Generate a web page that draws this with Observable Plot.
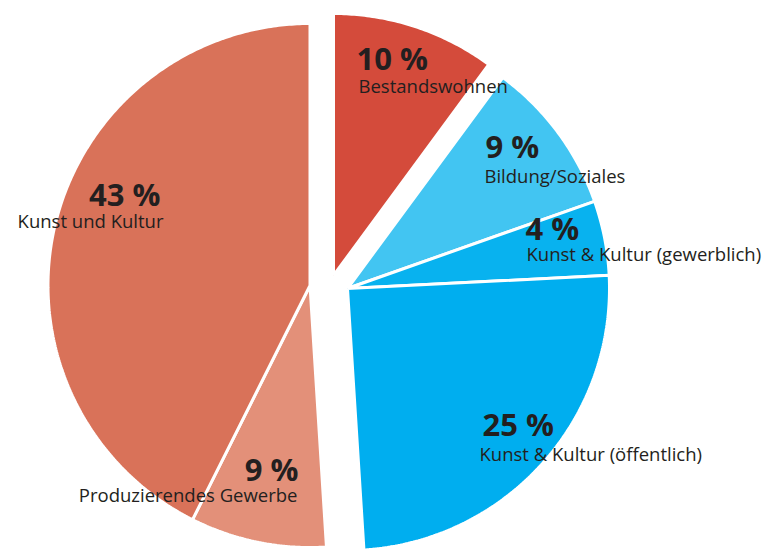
<!DOCTYPE html>
<html><head><meta charset="utf-8">
<script src="https://cdn.jsdelivr.net/npm/d3@7"></script>
<script src="https://cdn.jsdelivr.net/npm/@observablehq/plot@0.6"></script>
<style>
  html, body { margin: 0; padding: 0; background: #ffffff; }
  #chart svg { display: block; }
</style>
</head><body><div id="chart"></div>
<script>
// ---- data ----
const categories = [
  "Bestandswohnen",
  "Bildung/Soziales",
  "Kunst & Kultur (gewerblich)",
  "Kunst & Kultur (öffentlich)",
  "Produzierendes Gewerbe",
  "Kunst und Kultur"
];
const shares = [10.1, 9.5, 4.6, 24.8, 8.4, 42.6];
const percentLabels = ["10 %", "9 %", "4 %", "25 %", "9 %", "43 %"];
const sliceColors = ["#d44b3b", "#42c5f2", "#08b2ef", "#00aeef", "#e39079", "#d97259"];

// ---- layout (pixel space, y downward) ----
const W = 769, H = 549, R = 262;
const groupOf = [0, 1, 1, 1, 2, 2];
const groupCenters = [[333, 275], [347, 288], [309.5, 285]];
const pctPos  = [[356, 69, "start"], [485, 157, "start"], [525, 239, "start"], [482, 435, "start"], [298, 480.5, "end"], [160, 205, "end"]];
const namePos = [[358, 92.5, "start"], [484, 182, "start"], [526, 260, "start"], [479, 460, "start"], [297, 501, "end"], [163, 227.5, "end"]];

// slice outlines built from the pie angles
const arcs = d3.pie().sort(null).value(d => d).startAngle(0).endAngle(2 * Math.PI)(shares);
const outline = [];
arcs.forEach((a, i) => {
  const [cx, cy] = groupCenters[groupOf[i]];
  const key = categories[i];
  outline.push({key, x: cx, y: cy});
  const n = Math.max(4, Math.ceil((a.endAngle - a.startAngle) / 0.01));
  for (let k = 0; k <= n; k++) {
    const t = a.startAngle + (a.endAngle - a.startAngle) * k / n;
    outline.push({key, x: cx + R * Math.sin(t), y: cy - R * Math.cos(t)});
  }
  outline.push({key, x: cx, y: cy});
});

const pctRows = categories.map((c, i) => ({key: c, label: percentLabels[i], x: pctPos[i][0], y: pctPos[i][1], anchor: pctPos[i][2]}));
const nameRows = categories.map((c, i) => ({key: c, label: c, x: namePos[i][0], y: namePos[i][1], anchor: namePos[i][2]}));

const textMarks = (rows, opts) => ["start", "end"].map(anchor =>
  Plot.text(rows.filter(d => d.anchor === anchor), {
    x: "x", y: "y", text: "label", textAnchor: anchor, lineAnchor: "bottom",
    fill: "#231f20", ...opts
  })
);

const chart = Plot.plot({
  width: W, height: H,
  margin: 0,
  style: {fontFamily: "'Open Sans', sans-serif", background: "#ffffff"},
  x: {domain: [0, W], axis: null},
  y: {domain: [H, 0], axis: null},
  color: {type: "ordinal", domain: categories, range: sliceColors},
  marks: [
    Plot.line(outline, {
      x: "x", y: "y", z: "key", fill: "key",
      stroke: "#ffffff", strokeWidth: 3, strokeLinejoin: "miter", strokeLinecap: "butt", curve: "linear"
    }),
    ...textMarks(pctRows, {fontSize: 31, fontWeight: "bold"}),
    ...textMarks(nameRows, {fontSize: 18.5})
  ]
});
document.getElementById("chart").appendChild(chart);
</script>
</body></html>
